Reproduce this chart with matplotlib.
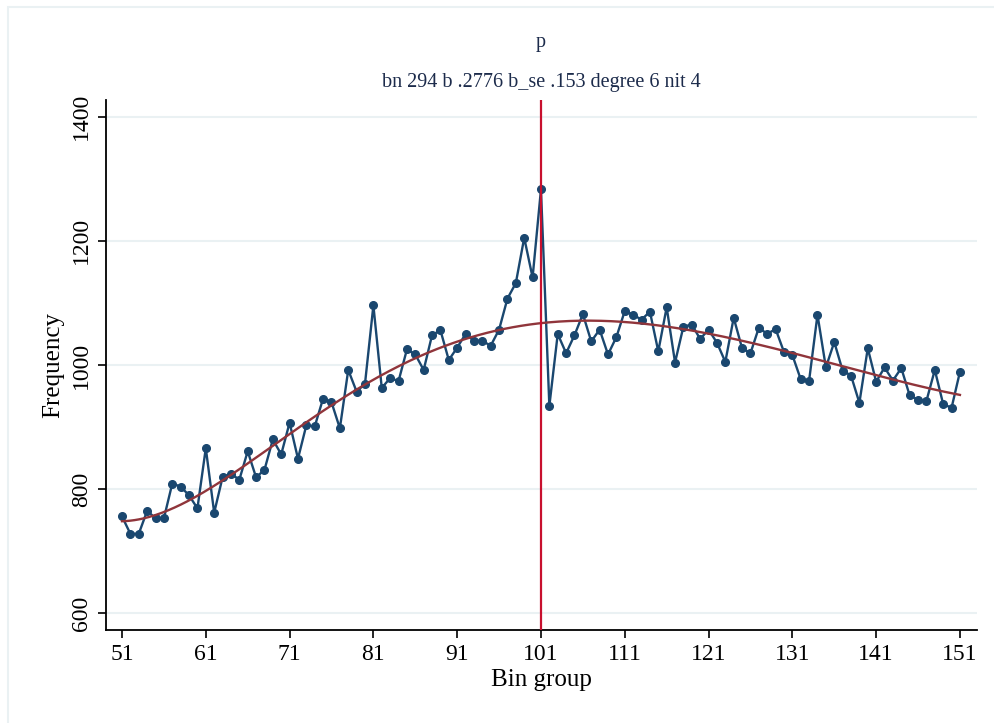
import numpy as np
import matplotlib
matplotlib.use("Agg")
import matplotlib.pyplot as plt
from matplotlib.patches import Rectangle

bins = np.arange(51, 152)
freq = [756, 728, 728, 765, 753, 753, 809, 804, 790, 769,
        866, 762, 819, 825, 815, 861, 819, 831, 880, 856,
        907, 849, 903, 901, 946, 940, 898, 992, 957, 970,
        1096, 963, 979, 974, 1025, 1017, 992, 1048, 1056, 1008,
        1028, 1050, 1039, 1039, 1031, 1057, 1107, 1132, 1205, 1141,
        1283, 934, 1050, 1019, 1048, 1082, 1038, 1057, 1017, 1045,
        1087, 1081, 1073, 1086, 1022, 1093, 1004, 1062, 1065, 1042,
        1057, 1036, 1005, 1076, 1027, 1019, 1060, 1050, 1058, 1021,
        1016, 977, 975, 1081, 996, 1037, 991, 983, 939, 1027,
        973, 996, 975, 995, 951, 944, 942, 992, 937, 931,
        989]
freq = np.array(freq)

threshold = 101
excl_lo, excl_hi = 96, 110   # bunching window left out of the counterfactual fit
degree = 6

title = "p"
subtitle = "bn 294 b .2776 b_se .153 degree 6 nit 4"
yticks = [600, 800, 1000, 1200, 1400]
xticks = list(range(51, 152, 10))

plt.rcParams['font.family'] = ['Liberation Serif', 'DejaVu Serif']

navy = "#1a476f"
maroon = "#90353b"
crimson = "#c8102e"
gridc = "#eaf1f3"

fig = plt.figure(figsize=(9.95, 7.23), dpi=100)
fig.patch.set_facecolor("white")
# light frame of the graph region
fig.add_artist(Rectangle((8 / 995, -0.01), 1.0, 1 - 7 / 723 + 0.01, transform=fig.transFigure,
                         fill=False, edgecolor=gridc, linewidth=1.5))

ax = fig.add_axes([106 / 995, 1 - 630 / 723, (976.7 - 106) / 995, (630 - 100) / 723])

# counterfactual polynomial, fitted outside the bunching window
mask = (bins < excl_lo) | (bins > excl_hi)
poly = np.polynomial.Polynomial.fit(bins[mask], freq[mask], degree)
xs = np.linspace(bins[0], bins[-1], 400)

for yv in yticks:
    ax.axhline(yv, color=gridc, lw=1.5, zorder=0)

ax.plot(bins, freq, "-o", color=navy, lw=1.7, markersize=5.5, zorder=3)
ax.plot(xs, poly(xs), color=maroon, lw=1.7, zorder=4)
ax.axvline(threshold, color=crimson, lw=1.6, zorder=5)

ax.set_xlim(49.09, 153.0)
ax.set_ylim(573, 1427)
ax.set_xticks(xticks)
ax.set_yticks(yticks)
ax.set_yticklabels([str(v) for v in yticks], rotation=90, va="center")
ax.tick_params(axis="both", labelsize=17, length=6, width=1.2, color="black")
ax.tick_params(axis="x", pad=4)
ax.tick_params(axis="y", pad=4)
for s in ["top", "right"]:
    ax.spines[s].set_visible(False)
for s in ["left", "bottom"]:
    ax.spines[s].set_linewidth(1.3)

ax.set_xlabel("Bin group", fontsize=18, labelpad=3)
ax.set_ylabel("Frequency", fontsize=18, labelpad=5)

fig.text(541 / 995, 1 - 42 / 723, title, ha="center", va="center", fontsize=14.5, color="#1c2b4b")
fig.text(541 / 995, 1 - 82 / 723, subtitle, ha="center", va="center", fontsize=14.5, color="#1c2b4b")

fig.savefig("out.png", dpi=100, facecolor="white")
